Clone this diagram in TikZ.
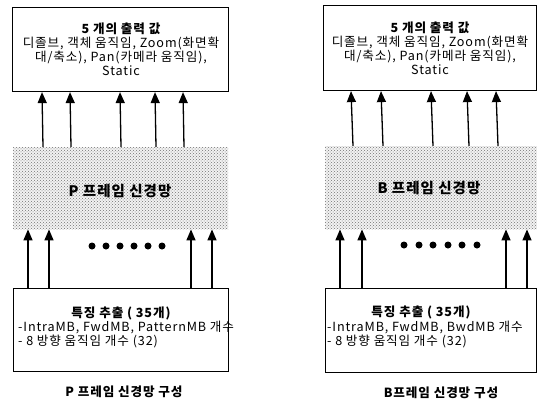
\documentclass[tikz,border=0pt]{standalone}
\usepackage{fontspec}
\setmainfont[LetterSpace=7]{Noto Sans CJK KR}
\usetikzlibrary{arrows.meta,patterns}
\tikzset{
  box/.style={draw=black, line width=1.1pt, anchor=north west, inner sep=0pt},
  net/.style={anchor=north west, inner sep=0pt, fill=gray!10, postaction={pattern=crosshatch dots, pattern color=black!55}},
  arr/.style={line width=1.3pt, -{Triangle[width=9pt,length=11pt]}},
  txt/.style={inner sep=0pt, font=\fontsize{12.6}{14}\selectfont},
  ttl/.style={inner sep=0pt, font=\fontsize{12.6}{14}\selectfont\bfseries},
  big/.style={inner sep=0pt, font=\fontsize{14.5}{16}\selectfont\bfseries},
  dot/.style={circle, fill=black, inner sep=0pt, minimum size=7pt}
}
\begin{document}
\begin{tikzpicture}[x=1pt,y=-1pt]
\useasboundingbox (0,0) rectangle (537,404);
% ---------- left panel ----------
\node[box, minimum width=216pt, minimum height=84pt] (pout) at (12,7) {};
\node[txt, align=center] (pouttxt) at (121,49) {{\bfseries 5 개의 출력 값}\\디졸브, 객체 움직임, Zoom(화면확\\대/축소), Pan(카메라 움직임),\\Static};
\node[net, minimum width=215pt, minimum height=82pt] (pnet) at (13,147) {};
\node[big] (pnettxt) at (120,191) {P 프레임 신경망};
\node[box, minimum width=215pt, minimum height=83pt] (pin) at (13,288) {};
\node[ttl] (pin1) at (121,313) {특징 추출 ( 35개)};
\node[txt, anchor=west] (pin2) at (18,327) {-IntraMB, FwdMB, PatternMB 개수};
\node[txt, anchor=west] (pin3) at (18,341) {- 8 방향 움직임 개수 (32)};
\node[ttl] (pcap) at (124,392) {P 프레임 신경망 구성};
\foreach \dx in {30,58,108,143,171}
  \draw[arr] ([xshift=\dx pt]pnet.north west) -- ([xshift=\dx pt]pout.south west);
\foreach \dx in {15,36,178,199}
  \draw[arr] ([xshift=\dx pt]pin.north west) -- ([xshift=\dx pt]pnet.south west);
\foreach \i/\x in {1/92,2/106,3/120,4/134,5/148,6/162}
  \node[dot] (pd\i) at (\x,246) {};
% ---------- right panel ----------
\node[box, minimum width=213pt, minimum height=85pt] (bout) at (323,5) {};
\node[txt, align=center] (bouttxt) at (430,48) {{\bfseries 5 개의 출력 값}\\디졸브, 객체 움직임, Zoom(화면확\\대/축소), Pan(카메라 움직임),\\Static};
\node[net, minimum width=212pt, minimum height=83pt] (bnet) at (325,146) {};
\node[big] (bnettxt) at (429,188) {B 프레임 신경망};
\node[box, minimum width=211pt, minimum height=84pt] (bin) at (325,288) {};
\node[ttl] (bin1) at (421,312) {특징 추출 ( 35개)};
\node[txt, anchor=west] (bin2) at (327,327) {-IntraMB, FwdMB, BwdMB 개수};
\node[txt, anchor=west] (bin3) at (327,341) {\itshape - 8 방향 움직임 개수 (32)};
\node[ttl] (bcap) at (441,393) {B프레임 신경망 구성};
\foreach \dx in {28,58,108,144,173}
  \draw[arr] ([xshift=\dx pt]bnet.north west) -- ([xshift=\dx pt]bout.south west);
\foreach \dx in {15,37,181,202}
  \draw[arr] ([xshift=\dx pt]bin.north west) -- ([xshift=\dx pt]bnet.south west);
\foreach \i/\x in {1/404,2/419,3/433,4/448,5/462,6/477}
  \node[dot] (bd\i) at (\x,245) {};
\end{tikzpicture}
\end{document}
